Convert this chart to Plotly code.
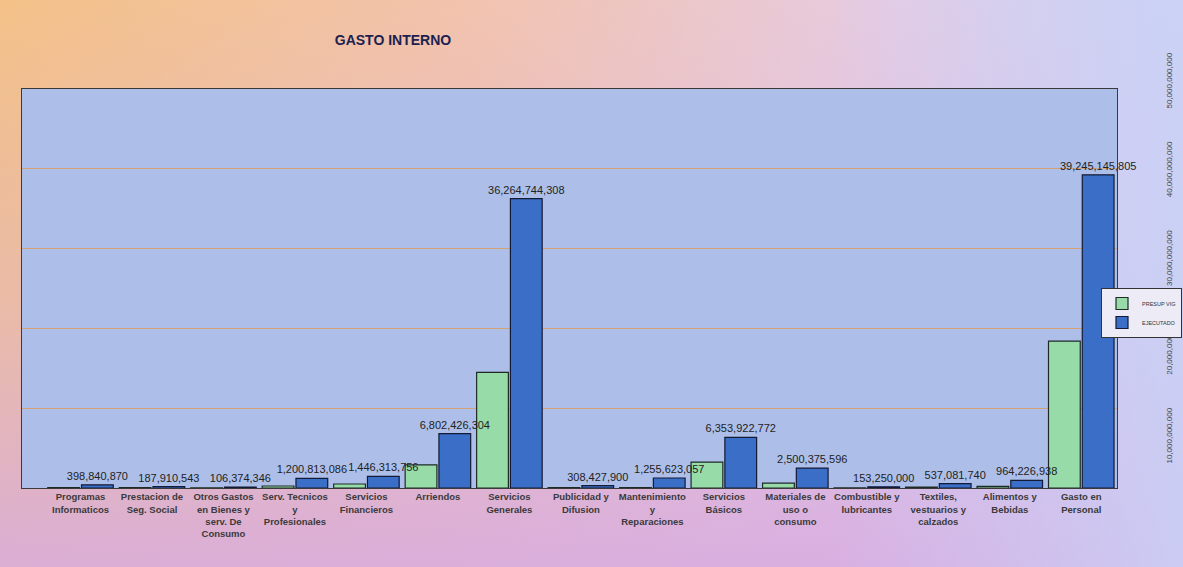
import base64
import plotly.graph_objects as go

categories = [
    "Programas<br>Informaticos",
    "Prestacion de<br>Seg. Social",
    "Otros Gastos<br>en Bienes y<br>serv. De<br>Consumo",
    "Serv. Tecnicos<br>y<br>Profesionales",
    "Servicios<br>Financieros",
    "Arriendos",
    "Servicios<br>Generales",
    "Publicidad y<br>Difusion",
    "Mantenimiento<br>y<br>Reparaciones",
    "Servicios<br>Básicos",
    "Materiales de<br>uso o<br>consumo",
    "Combustible y<br>lubricantes",
    "Textiles,<br>vestuarios y<br>calzados",
    "Alimentos y<br>Bebidas",
    "Gasto en<br>Personal",
]

presupuesto = [
    60000000, 40000000, 30000000, 250000000, 500000000,
    2900000000, 14500000000, 40000000, 60000000, 3250000000,
    600000000, 30000000, 120000000, 200000000, 18400000000,
]

ejecutado = [
    398840870, 187910543, 106374346, 1200813086, 1446313756,
    6802426304, 36264744308, 308427900, 1255623057, 6353922772,
    2500375596, 153250000, 537081740, 964226938, 39245145805,
]

series_names = ["PRESUP VIG", "EJECUTADO"]
y_ticks = [10000000000, 20000000000, 30000000000, 40000000000, 50000000000]

W, H = 1183, 567
ML, MR, MT, MB = 22, 10, 60, 79
PW, PH = W - ML - MR, H - MT - MB

svg = f'''<svg xmlns="http://www.w3.org/2000/svg" width="{W}" height="{H}" viewBox="0 0 {W} {H}" preserveAspectRatio="none">
<defs>
<linearGradient id="h" x1="0" y1="0" x2="1" y2="0">
<stop offset="0" stop-color="#f3c187"/>
<stop offset="0.4" stop-color="#f2c3ae"/>
<stop offset="0.75" stop-color="#e6cbe2"/>
<stop offset="1" stop-color="#d4d2f4"/>
</linearGradient>
<linearGradient id="v" x1="0" y1="0" x2="0" y2="1">
<stop offset="0" stop-color="#d8aee4" stop-opacity="0"/>
<stop offset="0.55" stop-color="#d8aee4" stop-opacity="0.35"/>
<stop offset="1" stop-color="#d6aae2" stop-opacity="0.85"/>
</linearGradient>
<linearGradient id="r" x1="0" y1="0" x2="1" y2="0">
<stop offset="0" stop-color="#c8d0f4" stop-opacity="0"/>
<stop offset="0.7" stop-color="#c8d0f4" stop-opacity="0"/>
<stop offset="1" stop-color="#c8d2f6" stop-opacity="0.8"/>
</linearGradient>
</defs>
<rect x="0" y="0" width="{W}" height="{H}" fill="url(#h)"/>
<rect x="0" y="0" width="{W}" height="{H}" fill="url(#v)"/>
<rect x="0" y="0" width="{W}" height="{H}" fill="url(#r)"/>
</svg>'''
src = "data:image/svg+xml;base64," + base64.b64encode(svg.encode()).decode()

fig = go.Figure()
fig.add_trace(go.Bar(
    x=categories, y=presupuesto, name=series_names[0],
    marker=dict(color="#97dca8", line=dict(color="#1f2a26", width=1.2)),
    hoverinfo="x+y",
))
fig.add_trace(go.Bar(
    x=categories, y=ejecutado, name=series_names[1],
    marker=dict(color="#3b6ec6", line=dict(color="#131a36", width=1.2)),
    text=[f"{v:,}" for v in ejecutado], textposition="outside",
    constraintext="none", cliponaxis=False,
    textfont=dict(family="Arial, Liberation Sans", size=11, color="#222222"),
))
# carrier for the right-hand value axis
fig.add_trace(go.Scatter(
    x=[categories[0]], y=[None], yaxis="y2", showlegend=False,
    hoverinfo="skip", mode="markers",
))

plot_top = 89
y_dom_top = (H - MB - plot_top) / PH
x_dom_right = (1117 - ML) / PW

# right axis label positions measured in the reference
lab30, per10 = 259.4, 88.75
lo = 30e9 - (H - MB - lab30) / per10 * 10e9
hi = 30e9 + (lab30 - MT) / per10 * 10e9

fig.update_layout(
    width=W, height=H,
    margin=dict(l=ML, r=MR, t=MT, b=MB, autoexpand=False),
    paper_bgcolor="#dccde6",
    plot_bgcolor="rgba(0,0,0,0)",
    barmode="group", bargap=0.055, bargroupgap=0.06,
    font=dict(family="Arial, Liberation Sans", color="#333333"),
    title=dict(text="<b>GASTO INTERNO</b>", x=393 / W, y=1 - 40 / H,
               xanchor="center", yanchor="middle",
               font=dict(size=14, color="#1c2150")),
    xaxis=dict(domain=[0, x_dom_right], anchor="y",
               showline=True, mirror=True, linecolor="#3a3a3a", linewidth=1,
               ticks="", tickangle=0,
               tickfont=dict(size=9.5, color="#3a3a3a", weight="bold")),
    yaxis=dict(domain=[0, y_dom_top], range=[0, 50e9], dtick=10e9,
               showticklabels=False, showgrid=True, gridcolor="#d5a274",
               gridwidth=1.3, zeroline=False,
               showline=True, mirror=True, linecolor="#3a3a3a", linewidth=1),
    yaxis2=dict(domain=[0, 1], range=[lo, hi], anchor="free",
                position=(1163 - ML) / PW, side="right",
                tickvals=y_ticks, ticktext=[f"{v:,}" for v in y_ticks],
                tickangle=-90, showgrid=False, zeroline=False, showline=False,
                ticks="", tickfont=dict(size=8, color="#444444")),
    legend=dict(x=(1101 - ML) / PW, y=(H - MB - 288) / PH,
                xanchor="left", yanchor="top",
                bgcolor="#ecebf6", bordercolor="#333333", borderwidth=1,
                font=dict(size=5.5, color="#333333"),
                itemwidth=30, tracegroupgap=1),
    images=[dict(source=src, xref="paper", yref="paper",
                 x=-ML / PW, y=1 + MT / PH, sizex=W / PW, sizey=H / PH,
                 xanchor="left", yanchor="top", sizing="stretch",
                 layer="below")],
    shapes=[dict(type="rect", xref="x domain", yref="y domain",
                 x0=0, x1=1, y0=0, y1=1, layer="below",
                 fillcolor="#adbfe9", line=dict(width=0))],
    showlegend=True,
)

fig.write_html(
    "out.html",
    config={"displayModeBar": False},
    post_script="document.body.style.margin='0';document.body.style.overflow='hidden';",
)
